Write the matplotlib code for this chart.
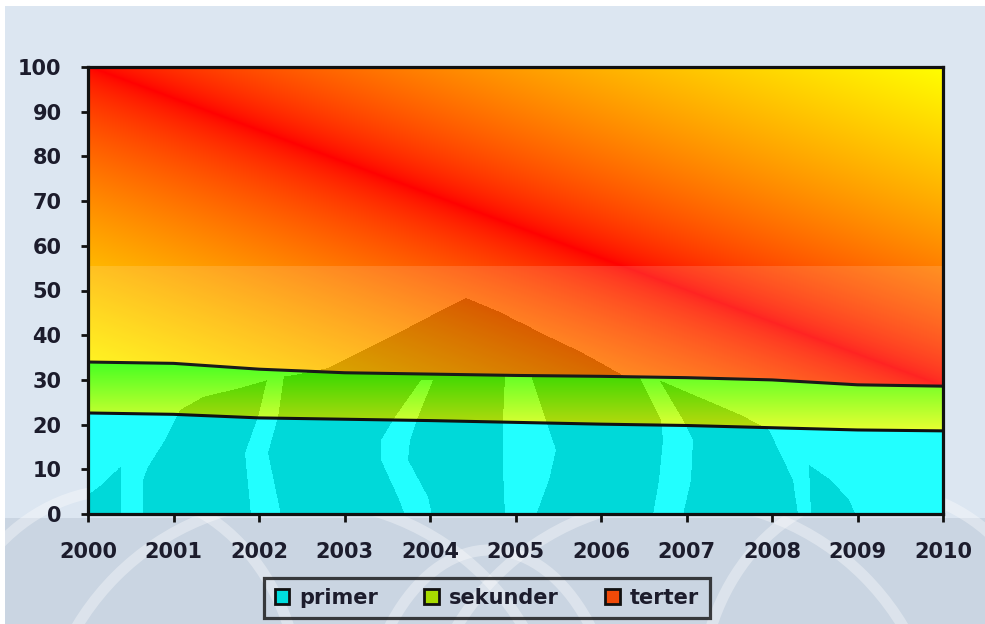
import numpy as np
import matplotlib
matplotlib.use("Agg")
import matplotlib.pyplot as plt
from matplotlib.path import Path
from matplotlib.patches import Patch, Rectangle, Ellipse

# ---------------- data ----------------
years = [2000, 2001, 2002, 2003, 2004, 2005, 2006, 2007, 2008, 2009, 2010]
primer = [22.6, 22.3, 21.5, 21.2, 20.9, 20.5, 20.1, 19.8, 19.3, 18.8, 18.6]
sekunder = [11.4, 11.4, 10.9, 10.4, 10.4, 10.5, 10.7, 10.7, 10.7, 10.1, 10.0]
tersier = [66.0, 66.3, 67.6, 68.4, 68.7, 69.0, 69.2, 69.5, 70.0, 71.1, 71.4]
series_labels = ["primer", "sekunder", "terter"]
y_ticks = [0, 10, 20, 30, 40, 50, 60, 70, 80, 90, 100]
x_tick_labels = [str(y) for y in years]

# ---------------- figure ----------------
W_PX, H_PX = 985, 624
fig = plt.figure(figsize=(W_PX / 100, H_PX / 100), dpi=100, facecolor="#dce6f1")

# background decoration (watermark-like)
bg = fig.add_axes([0, 0, 1, 1], zorder=-10)
bg.set_xlim(0, W_PX)
bg.set_ylim(H_PX, 0)
bg.axis("off")
bg.add_patch(Rectangle((0, 0), W_PX, H_PX, facecolor="#dce6f1", edgecolor="none"))
bg.add_patch(Rectangle((0, 518), W_PX, 110, facecolor="#cad5e2", edgecolor="none"))
for (cx, cy, w, h) in [(300, 760, 520, 520), (680, 760, 520, 520), (490, 760, 260, 420),
                       (120, 700, 360, 420), (880, 700, 360, 420)]:
    bg.add_patch(Ellipse((cx, cy), w, h, facecolor="none", edgecolor="white",
                         linewidth=8, alpha=0.35))
bg.add_patch(Rectangle((0, 0), W_PX, 6, facecolor="white", edgecolor="none"))
bg.add_patch(Rectangle((0, 0), 5, H_PX, facecolor="white", edgecolor="none"))

# main axes
L, R, T, B = 88, 943, 67, 514
ax = fig.add_axes([L / W_PX, 1 - B / H_PX, (R - L) / W_PX, (B - T) / H_PX])
ax.set_facecolor("none")
ax.set_xlim(years[0], years[-1])
ax.set_ylim(0, 100)

yrs = np.array(years, dtype=float)
p = np.array(primer)
s = np.array(sekunder)
t = np.array(tersier)
top1 = p
top2 = p + s
top3 = p + s + t

polys = [
    ax.fill_between(yrs, 0, top1, facecolor="none", edgecolor="none"),
    ax.fill_between(yrs, top1, top2, facecolor="none", edgecolor="none"),
    ax.fill_between(yrs, top2, top3, facecolor="none", edgecolor="none"),
]

def add_grad(rgb, extent, poly):
    im = ax.imshow(rgb, extent=extent, origin="lower", aspect="auto",
                   interpolation="bilinear", zorder=1)
    im.set_clip_path(poly.get_paths()[0], transform=ax.transData)

# primer: cyan
add_grad(np.ones((2, 2, 3)) * np.array([0.0, 1.0, 1.0]),
         (years[0], years[-1], 0, top1.max()), polys[0])

# sekunder: vertical gradient green (top) -> yellow (bottom)
y0, y1 = top1.min(), top2.max()
n = 200
v = np.linspace(0, 1, n)[:, None]  # 0 bottom -> 1 top
c_bot = np.array([0.90, 1.0, 0.07])
c_top = np.array([0.16, 1.0, 0.0])
g = (c_bot[None, :] * (1 - v) + c_top[None, :] * v)
g = np.repeat(g[:, None, :], 2, axis=1)
add_grad(g, (years[0], years[-1], y0, y1), polys[1])

# tersier: diagonal gradient, red on the diagonal, yellow at corners
y0t, y1t = top2.min(), top3.max()
nx, ny = 500, 400
uu, vv = np.meshgrid(np.linspace(0, 1, nx), np.linspace(1, 0, ny))
tt = np.clip(np.abs(vv - uu), 0, 1) ** 0.7
rgb = np.zeros((ny, nx, 3))
rgb[..., 0] = 1.0
rgb[..., 1] = tt
add_grad(rgb, (years[0], years[-1], y0t, y1t), polys[2])

# watermark overlay (decoration, in axes-fraction coordinates)
def to_ax(pts):
    return np.array([((px - L) / (R - L), (B - py) / (B - T)) for px, py in pts])

outer = to_ax([(466, 298), (440, 311), (400, 332), (360, 352), (328, 368), (300, 374),
               (275, 378), (240, 388), (203, 397), (180, 410), (165, 440), (148, 467),
               (143, 480), (143, 515), (797, 515), (792, 480), (768, 430), (740, 415),
               (700, 398), (658, 380), (625, 377), (580, 352), (540, 333), (500, 312)])
extra = [
    to_ax([(88, 495), (100, 486), (115, 472), (121, 466), (121, 515), (88, 515)]),
    to_ax([(808, 465), (830, 480), (848, 500), (855, 515), (810, 515)]),
]
stripes = [
    to_ax([(268, 376), (258, 417), (245, 453), (251, 515), (281, 515), (268, 453), (278, 417), (284, 376)]),
    to_ax([(421, 380), (395, 417), (381, 440), (381, 460), (398, 497), (405, 515),
           (432, 515), (428, 497), (408, 460), (410, 440), (418, 417), (433, 380)]),
    to_ax([(505, 376), (503, 420), (503, 470), (505, 515), (535, 515), (548, 480),
           (555, 450), (545, 420), (530, 376)]),
    to_ax([(638, 376), (660, 420), (662, 440), (658, 480), (652, 515), (682, 515),
           (690, 480), (692, 440), (682, 420), (656, 376)]),
]
GW, GH = R - L, B - T
gx, gy = np.meshgrid((np.arange(GW) + 0.5) / GW, (np.arange(GH) + 0.5) / GH)
pts = np.column_stack([gx.ravel(), gy.ravel()])
dark = Path(outer).contains_points(pts)
for st in stripes:
    dark &= ~Path(st).contains_points(pts)
for ex in extra:
    dark |= Path(ex).contains_points(pts)
dark = dark.reshape(GH, GW)
light = (gy < 0.555) & ~dark
ov = np.zeros((GH, GW, 4))
ov[dark] = [0, 0, 0, 0.15]
ov[light] = [1, 1, 1, 0.14]
ax.imshow(ov, extent=(0, 1, 0, 1), transform=ax.transAxes, origin="lower",
          aspect="auto", interpolation="nearest", zorder=2)
ax.set_xlim(years[0], years[-1])
ax.set_ylim(0, 100)

# boundary lines
ax.plot(yrs, top1, color="#111111", linewidth=2.2, zorder=3, solid_capstyle="butt")
ax.plot(yrs, top2, color="#1a1a1a", linewidth=2.2, zorder=3, solid_capstyle="butt")

for sp in ax.spines.values():
    sp.set_linewidth(2.3)
    sp.set_color("#111111")
    sp.set_zorder(4)

lab_font = dict(family="DejaVu Sans", weight="bold", size=15)
ax.set_yticks(y_ticks)
ax.set_yticklabels([str(v) for v in y_ticks], fontdict=lab_font, color="#1c1c2c")
ax.set_xticks(years)
ax.set_xticklabels(x_tick_labels, fontdict=lab_font, color="#1c1c2c")
ax.tick_params(axis="y", direction="out", length=5, width=2, color="#111111", pad=14)
ax.tick_params(axis="x", direction="out", length=6, width=2, color="#111111", pad=14)

# legend
handles = [
    Patch(facecolor="#00dede", edgecolor="#111111", linewidth=2),
    Patch(facecolor="#a8dc00", edgecolor="#111111", linewidth=2),
    Patch(facecolor="#f04a08", edgecolor="#111111", linewidth=2),
]
leg = fig.legend(handles, series_labels, loc="center",
                 bbox_to_anchor=(487 / W_PX, 1 - 598 / H_PX), ncol=3,
                 frameon=True, fancybox=False, edgecolor="#111111", facecolor="none",
                 borderpad=0.5, handlelength=0.7, handleheight=0.7,
                 handletextpad=0.5, columnspacing=2.2,
                 prop=dict(family="DejaVu Sans", weight="bold", size=15))
leg.get_frame().set_linewidth(2.3)
for txt in leg.get_texts():
    txt.set_color("#1c1c2c")

fig.savefig("out.png", dpi=100, facecolor=fig.get_facecolor())
